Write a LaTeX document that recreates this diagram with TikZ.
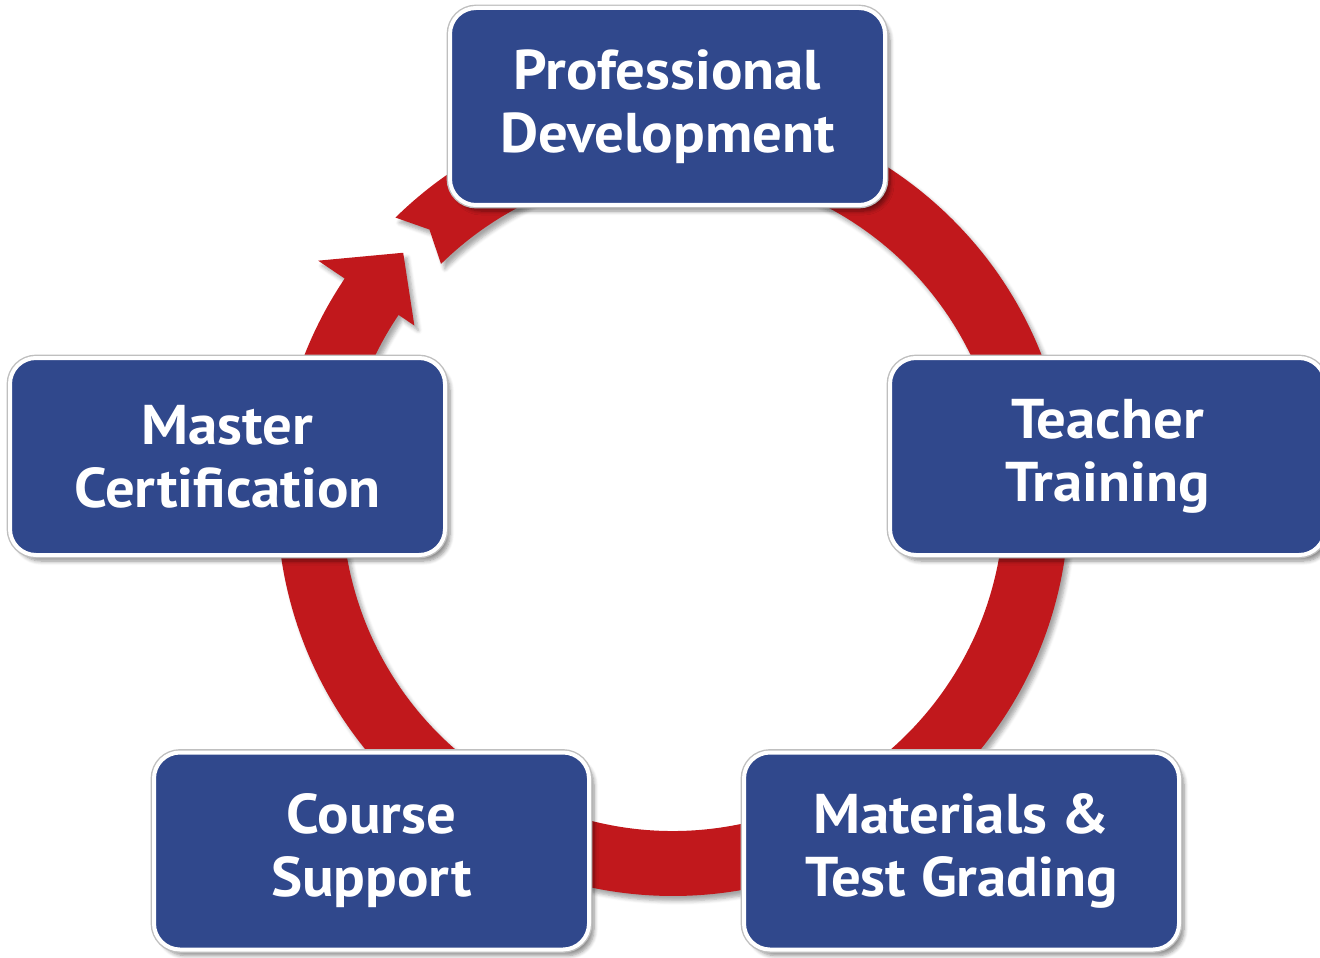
\documentclass[tikz,border=0pt]{standalone}
\usepackage{fontspec}
\setmainfont{PT Sans}[FakeStretch=1.05]
\usepackage{tikz}
\usetikzlibrary{shapes,arrows,positioning,calc,shadows.blur}
\definecolor{boxblue}{RGB}{48,72,140}
\definecolor{ringred}{RGB}{193,24,28}

\begin{document}
\begin{tikzpicture}[x=0.5pt, y=0.5pt,
        stage/.style={rectangle, rounded corners=13pt, fill=boxblue, draw=white, line width=2pt,
            blur shadow={shadow xshift=2.5pt, shadow yshift=-3pt, shadow blur steps=6, shadow opacity=45},
            preaction={draw=black!25, line width=3.4pt},
            minimum width=217.5pt, minimum height=98.5pt, inner sep=0pt,
            align=center, text=white, font=\fontsize{28}{31.5}\selectfont\bfseries}]
        \useasboundingbox (0,0) rectangle (1320,-957);
        \coordinate (ctr) at (673,-500);
        % ring with notched tail and arrow head
        \fill[ringred, blur shadow={shadow xshift=2pt, shadow yshift=-2.5pt, shadow blur steps=5, shadow opacity=35}]
            ($(ctr)+(134.5:396)$) arc[start angle=134.5, end angle=-214, radius=396]
            -- ($(ctr)+(146:428)$) -- ($(ctr)+(137.5:366)$) -- ($(ctr)+(146:312)$)
            -- ($(ctr)+(146:331)$) arc[start angle=-214, end angle=134.5, radius=331]
            -- ($(ctr)+(132:364)$) -- cycle;
        \node (pd) [stage] at (667.5,-106.5) {Professional\\Development};
        \node (tt) [stage] at (1107.5,-456.5) {Teacher\\Training};
        \node (mtg) [stage] at (961.5,-851) {Materials \&\\Test Grading};
        \node (cs) [stage] at (371.5,-851) {Course\\Support};
        \node (mc) [stage] at (227.5,-456.5) {Master\\Certification};
    \end{tikzpicture}
\end{document}
